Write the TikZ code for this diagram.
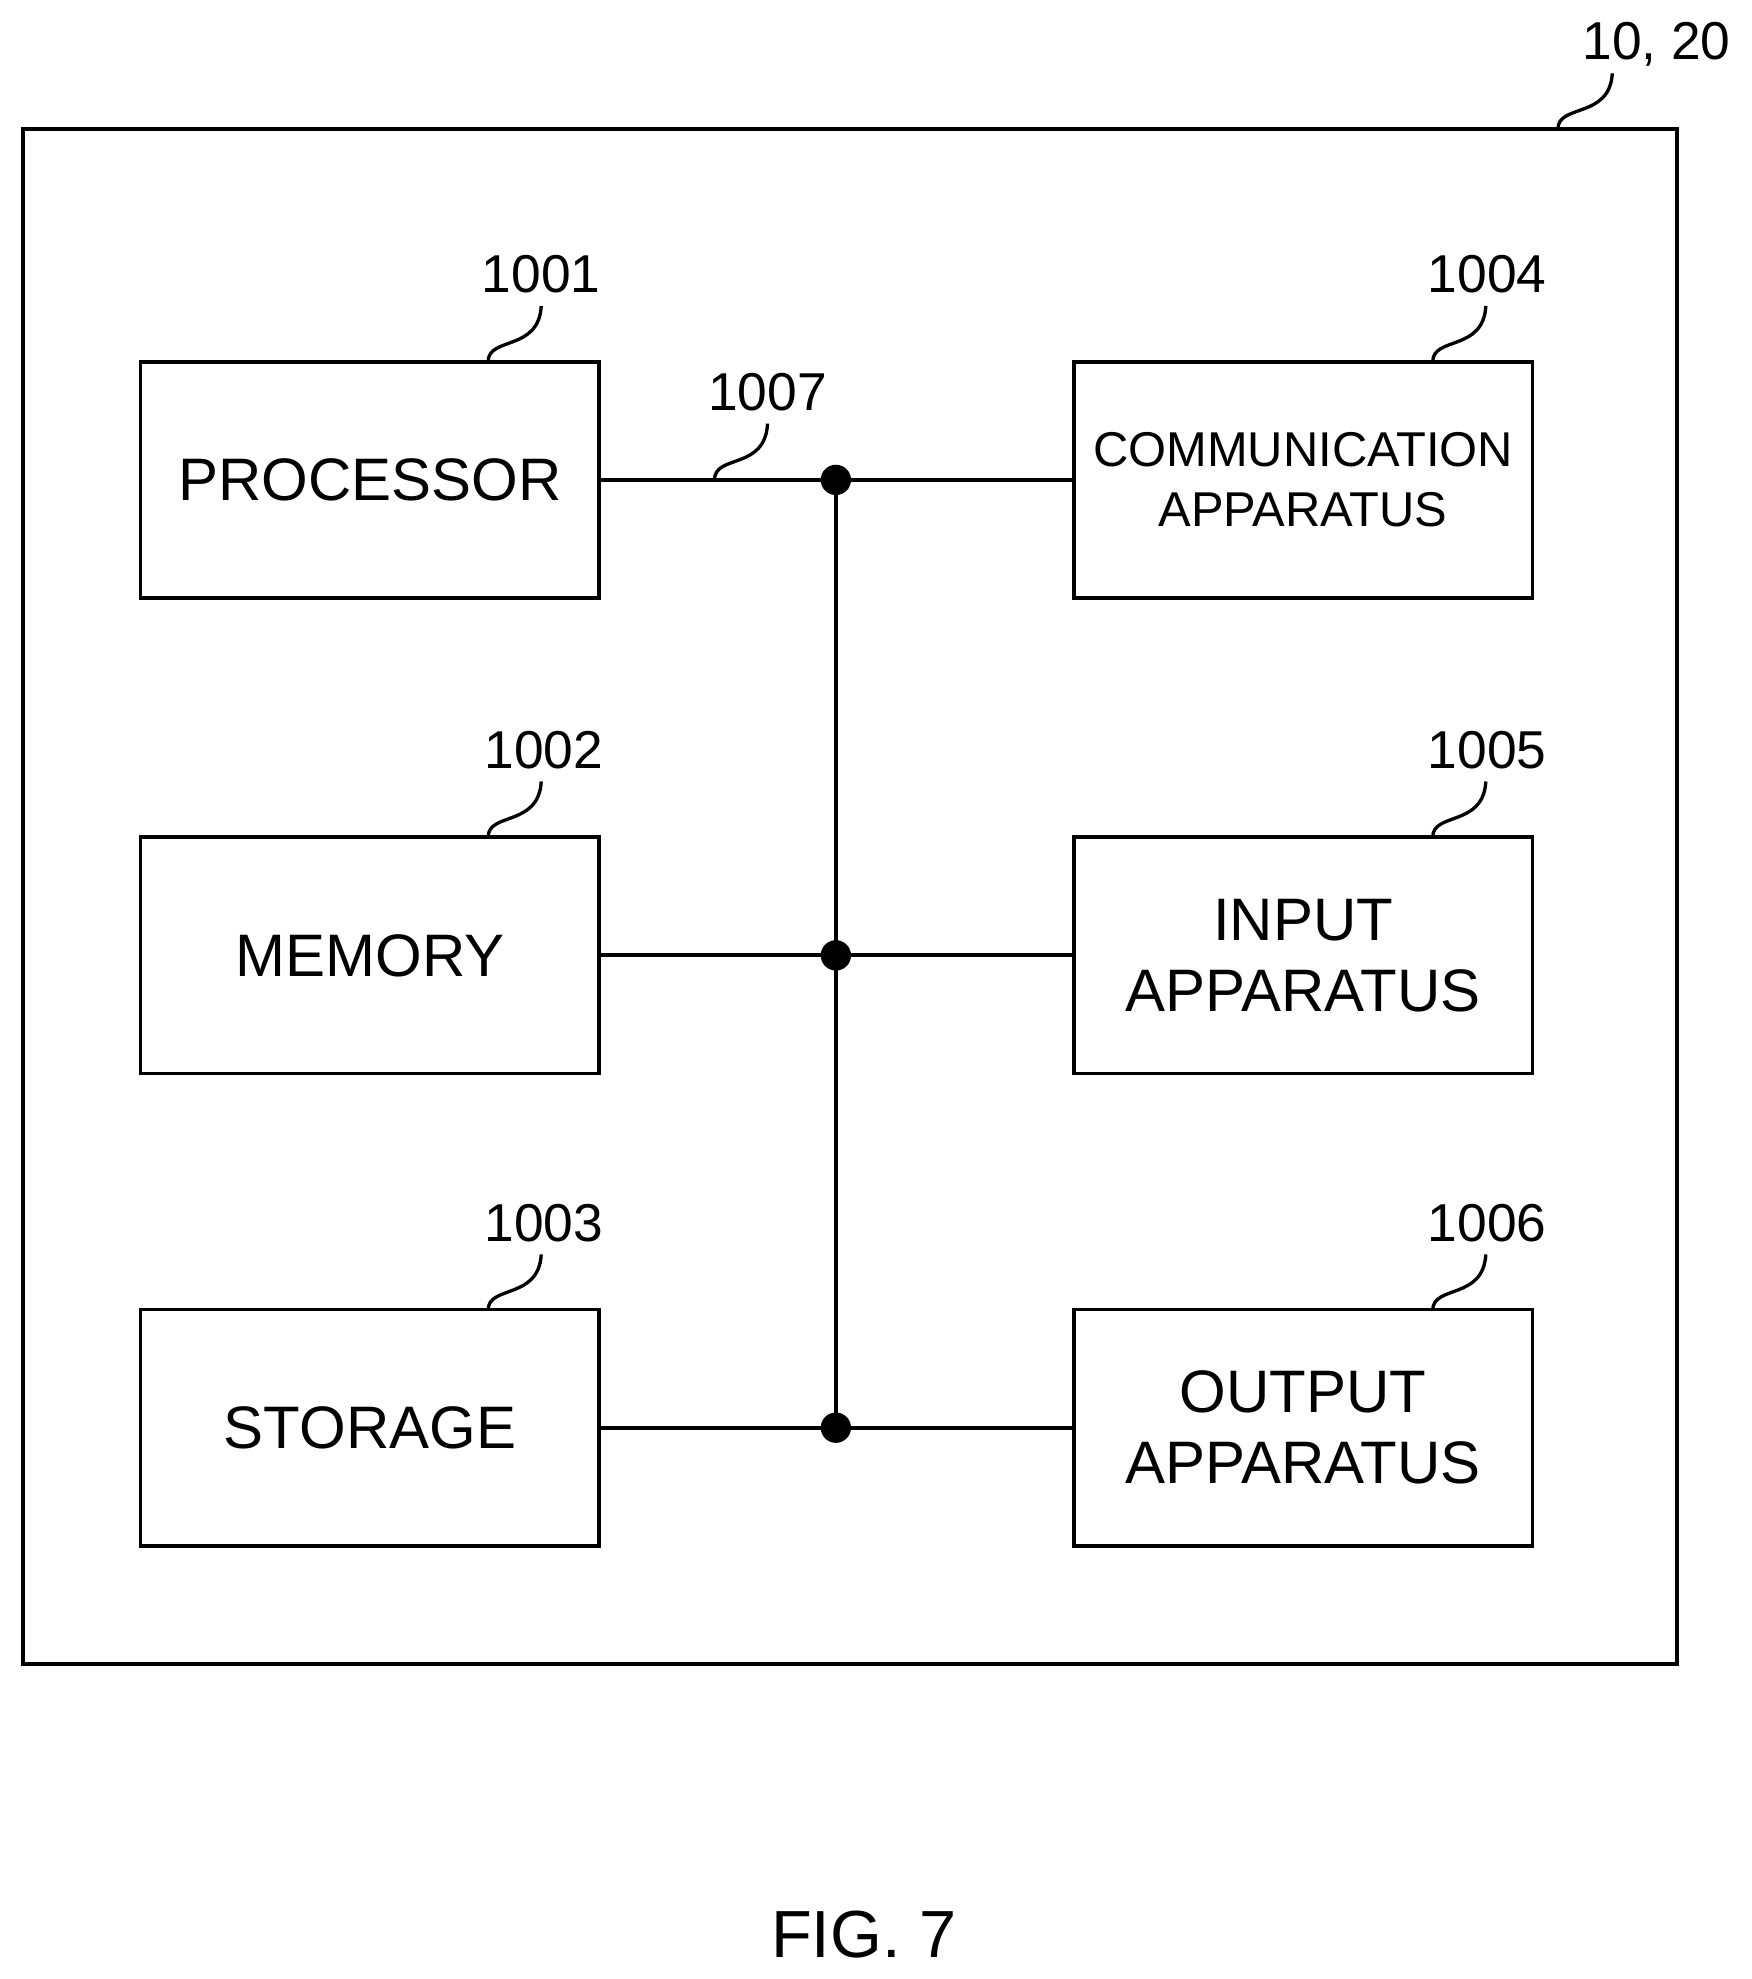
\documentclass[tikz,border=0pt]{standalone}
\usepackage{fontspec}
\setmainfont{Liberation Sans}
\begin{document}
\begin{tikzpicture}[x=0.02cm,y=-0.02cm,line width=1.7pt,
  box/.style={draw,minimum width=7.26cm,minimum height=3.74cm,inner sep=0pt,align=center,font=\fontsize{27}{32}\selectfont},
  lbl/.style={font=\fontsize{24}{28}\selectfont,inner sep=0pt},
  dot/.style={circle,fill,inner sep=0pt,minimum size=0.48cm}]
\useasboundingbox (0,0) rectangle (1385,1565);
\draw (18,102) rectangle (1326,1316);
\node[box] (p) at (292.5,379.5) {PROCESSOR};
\node[box] (m) at (292.5,755.5) {MEMORY};
\node[box] (s) at (292.5,1129) {STORAGE};
\node[box,font=\fontsize{22}{27}\selectfont] (c) at (1030.5,379.5) {COMMUNICATION\\APPARATUS};
\node[box] (i) at (1030.5,755.5) {INPUT\\APPARATUS};
\node[box] (o) at (1030.5,1129) {OUTPUT\\APPARATUS};
\node[dot] (d1) at (661,379.5) {};
\node[dot] (d2) at (661,755.5) {};
\node[dot] (d3) at (661,1129) {};
\draw (p.east) -- (c.west);
\draw (m.east) -- (i.west);
\draw (s.east) -- (o.west);
\draw (d1.center) -- (d3.center);
\node[lbl] (l1) at (428,217) {1001};
\node[lbl] (l4) at (1176,217) {1004};
\node[lbl] (l7) at (607,310) {1007};
\node[lbl] (l2) at (430,593) {1002};
\node[lbl] (l5) at (1176,593) {1005};
\node[lbl] (l3) at (430,967) {1003};
\node[lbl] (l6) at (1176,967) {1006};
\node[lbl] (l0) at (1310,35) {10, 20};
\node[font=\fontsize{30}{36}\selectfont] (fig) at (683,1530) {FIG. 7};
\tikzset{lead/.style={line width=1.5pt}}
\foreach \x/\y in {386/286,386/662,386/1036,1133/286,1133/662,1133/1036}{
  \draw[lead] (\x,\y) .. controls (\x,\y-20) and (\x+40,\y-8) .. (\x+42,\y-44);}
\draw[lead] (565,379.5) .. controls (565,359) and (605,372) .. (607,335);
\draw[lead] (1232,102) .. controls (1232,82) and (1273,94) .. (1275,58);
\end{tikzpicture}
\end{document}
